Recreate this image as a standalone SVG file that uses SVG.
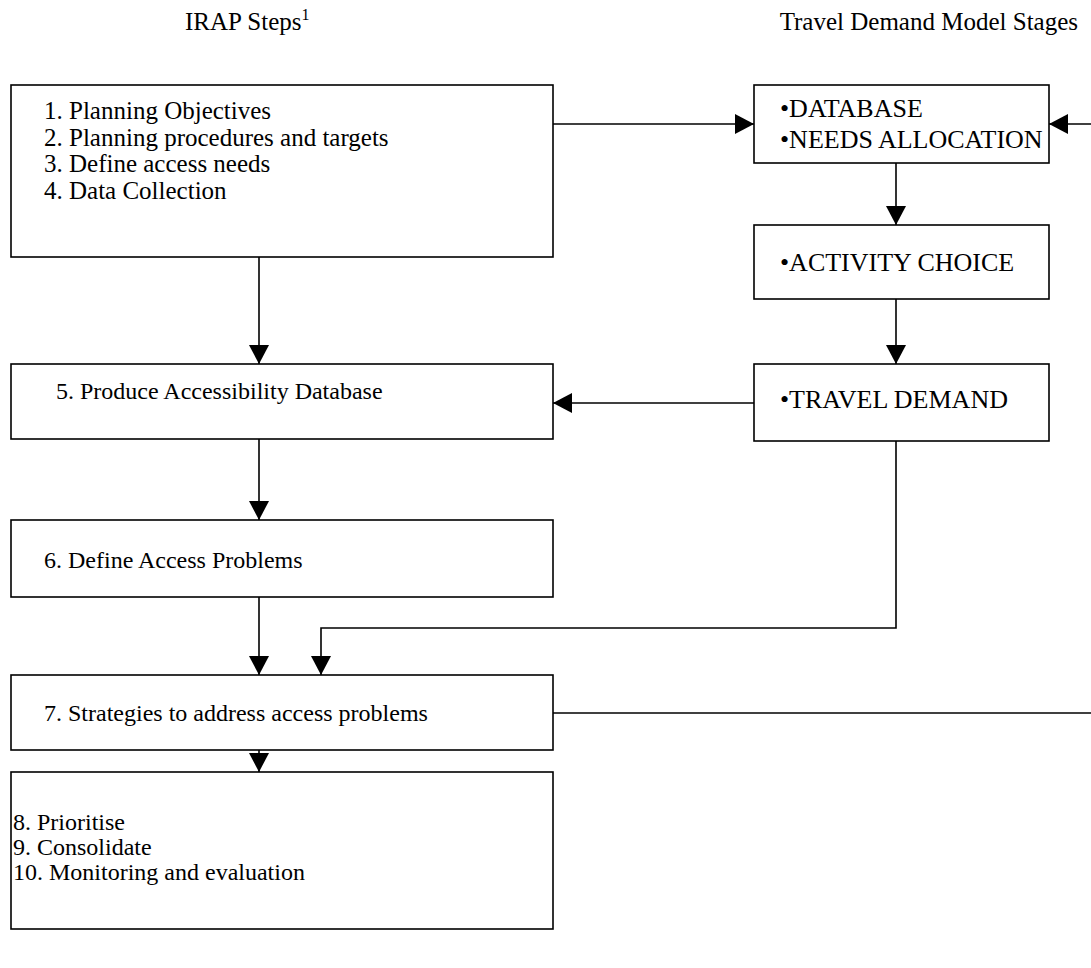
<svg xmlns="http://www.w3.org/2000/svg" width="1091" height="968" viewBox="0 0 1091 968">
<style>
.box{fill:#fff;stroke:#000;stroke-width:1.6}
.t{font-family:"Liberation Serif","Times New Roman",serif;font-size:24px;fill:#000}
.h{font-size:25px}
.b{font-size:26px}
.m{font-size:25px}
.c{fill:none;stroke:#000;stroke-width:1.6}
</style>
<defs>
<marker id="ah" markerUnits="userSpaceOnUse" markerWidth="20" markerHeight="20" refX="19" refY="10" orient="auto">
<path d="M0,0 L19,10 L0,20 z" fill="#000"/>
</marker>
</defs>
<rect width="1091" height="968" fill="#fff"/>
<g id="headers">
<text class="t h" x="185" y="30">IRAP Steps<tspan font-size="16" dy="-10">1</tspan></text>
<text class="t h" x="1078" y="30" text-anchor="end">Travel Demand Model Stages</text>
</g>
<g id="connectors">
<line class="c" x1="553" y1="124" x2="754" y2="124" marker-end="url(#ah)"/>
<line class="c" x1="1091" y1="124" x2="1049" y2="124" marker-end="url(#ah)"/>
<line class="c" x1="896" y1="163" x2="896" y2="225" marker-end="url(#ah)"/>
<line class="c" x1="896" y1="299" x2="896" y2="364" marker-end="url(#ah)"/>
<line class="c" x1="754" y1="403" x2="553" y2="403" marker-end="url(#ah)"/>
<line class="c" x1="259" y1="257" x2="259" y2="364" marker-end="url(#ah)"/>
<line class="c" x1="259" y1="439" x2="259" y2="520" marker-end="url(#ah)"/>
<line class="c" x1="259" y1="597" x2="259" y2="675" marker-end="url(#ah)"/>
<polyline class="c" points="896,441 896,628 321,628 321,675" marker-end="url(#ah)"/>
<line class="c" x1="553" y1="713" x2="1091" y2="713"/>
<line class="c" x1="259" y1="750" x2="259" y2="772" marker-end="url(#ah)"/>
</g>
<g id="n1">
<rect class="box" x="11" y="85" width="542" height="172"/>
<text class="t m" x="44" y="119">1. Planning Objectives</text>
<text class="t m" x="44" y="145.5">2. Planning procedures and targets</text>
<text class="t m" x="44" y="172">3. Define access needs</text>
<text class="t m" x="44" y="198.5">4. Data Collection</text>
</g>
<g id="n_db">
<rect class="box" x="754" y="85" width="295" height="78"/>
<text class="t b" x="780" y="117">•DATABASE</text>
<text class="t b" x="780" y="148">•NEEDS ALLOCATION</text>
</g>
<g id="n_act">
<rect class="box" x="754" y="225" width="295" height="74"/>
<text class="t b" x="780" y="271">•ACTIVITY CHOICE</text>
</g>
<g id="n_td">
<rect class="box" x="754" y="364" width="295" height="77"/>
<text class="t b" x="780" y="408">•TRAVEL DEMAND</text>
</g>
<g id="n5">
<rect class="box" x="11" y="364" width="542" height="75"/>
<text class="t" x="56" y="399">5. Produce Accessibility Database</text>
</g>
<g id="n6">
<rect class="box" x="11" y="520" width="542" height="77"/>
<text class="t" x="44" y="568">6. Define Access Problems</text>
</g>
<g id="n7">
<rect class="box" x="11" y="675" width="542" height="75"/>
<text class="t" x="44" y="721">7. Strategies to address access problems</text>
</g>
<g id="n8">
<rect class="box" x="11" y="772" width="542" height="157"/>
<text class="t" x="13" y="830">8. Prioritise</text>
<text class="t" x="13" y="855">9. Consolidate</text>
<text class="t" x="13" y="880">10. Monitoring and evaluation</text>
</g>
</svg>
